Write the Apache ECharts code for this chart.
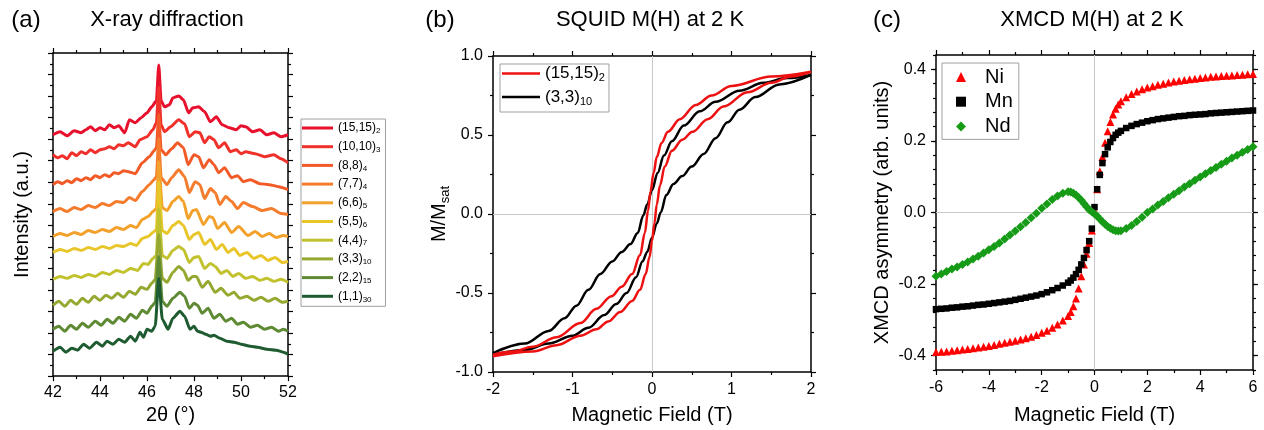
<!DOCTYPE html>
<html><head><meta charset="utf-8">
<script src="https://cdn.jsdelivr.net/npm/echarts@6/dist/echarts.min.js"></script>
<style>html,body{margin:0;padding:0;background:#fff}#c{width:1264px;height:430px}</style>
</head><body><div id="c"></div>
<script>
// ---------- (a) X-ray diffraction: 2theta (deg), offset log intensity (a.u.) ----------
const xrdLabels = ['(15,15)','(10,10)','(8,8)','(7,7)','(6,6)','(5,5)','(4,4)','(3,3)','(2,2)','(1,1)'];
const xrdSubs = ['2','3','4','4','5','6','7','10','15','30'];
const xrdC1 = [[42.0,242],[42.3,245],[42.6,241],[42.9,246],[43.2,244],[43.4,247],[43.6,250],[43.8,246],[44.0,249],[44.2,247],[44.4,252],[44.6,249],[44.8,251],[45.05,244],[45.25,257],[45.5,254],[45.75,259],[46.0,264],[46.2,270],[46.4,276],[46.5,312],[46.6,276],[46.75,270],[46.95,272],[47.1,279],[47.35,281],[47.55,277],[47.77,264],[47.95,269],[48.2,270],[48.45,265],[48.7,255],[48.95,260],[49.2,252],[49.5,249],[49.8,247],[50.0,251],[50.2,250],[50.5,245],[50.8,247],[51.1,242],[51.4,244],[51.7,240],[52.0,242]];
const xrdC2 = [[42.0,222],[42.2,219],[42.4,221],[42.6,218],[42.8,224],[43.0,221],[43.2,225],[43.4,223],[43.6,227],[43.8,224],[44.0,227],[44.2,228],[44.4,230],[44.6,228],[44.8,232],[45.0,231],[45.2,234],[45.5,230],[45.7,237],[46.0,240],[46.25,247],[46.4,254],[46.5,290],[46.6,252],[46.75,245],[47.0,250],[47.35,257],[47.6,253],[47.8,240],[48.05,245],[48.25,244],[48.45,234],[48.65,240],[48.85,237],[49.05,229],[49.3,234],[49.55,225],[49.8,227],[50.0,223],[50.2,225],[50.6,223],[51.0,220],[51.4,222],[51.7,218],[52.0,214]];
const xrdC3 = [[42.0,192],[42.2,195],[42.4,193],[42.6,196],[42.8,194],[43.0,198],[43.2,196],[43.4,199],[43.6,197],[43.8,201],[44.0,199],[44.2,202],[44.4,200],[44.6,204],[44.8,203],[45.0,206],[45.2,205],[45.5,203],[45.8,214],[46.1,220],[46.3,226],[46.4,229],[46.5,262],[46.6,227],[46.8,222],[47.05,228],[47.3,234],[47.55,229],[47.75,212],[48.0,222],[48.2,220],[48.4,209],[48.65,217],[48.85,212],[49.05,204],[49.3,209],[49.6,199],[49.85,201],[50.1,195],[50.4,197],[50.8,193],[51.2,192],[51.6,190],[52.0,187]];
const xrdC4 = [[42.0,165],[42.3,168],[42.6,165],[42.9,169],[43.2,167],[43.5,171],[43.8,169],[44.1,173],[44.4,171],[44.7,175],[45.0,174],[45.25,179],[45.5,176],[45.8,185],[46.1,192],[46.3,197],[46.4,200],[46.5,238],[46.6,199],[46.85,192],[47.05,199],[47.35,207],[47.6,200],[47.8,184],[48.05,195],[48.25,192],[48.45,178],[48.7,188],[48.9,184],[49.1,172],[49.35,180],[49.6,175],[49.85,168],[50.1,174],[50.5,170],[50.9,166],[51.3,168],[51.7,163],[52.0,162]];
const xrdC5 = [[42.0,140],[42.3,143],[42.6,141],[42.9,144],[43.2,142],[43.5,146],[43.8,144],[44.1,147],[44.4,145],[44.7,149],[45.0,147],[45.3,151],[45.55,149],[45.8,157],[46.05,160],[46.25,165],[46.4,168],[46.5,215],[46.65,169],[46.85,166],[47.1,175],[47.35,180],[47.55,175],[47.75,158],[47.95,166],[48.1,167],[48.4,152],[48.65,160],[48.8,159],[49.0,148],[49.3,154],[49.6,144],[49.9,150],[50.3,141],[50.6,145],[50.9,140],[51.2,143],[51.5,139],[51.8,141],[52.0,140]];
const xrdC6 = [[42.0,124],[42.3,127],[42.6,125],[42.9,128],[43.2,126],[43.5,129],[43.8,127],[44.1,130],[44.4,128],[44.7,131],[45.0,130],[45.3,133],[45.55,131],[45.8,138],[46.05,140],[46.25,144],[46.4,147],[46.5,195],[46.65,146],[46.85,143],[47.1,151],[47.35,155],[47.55,151],[47.8,137],[48.0,142],[48.2,144],[48.45,132],[48.7,137],[48.95,127],[49.2,132],[49.45,124],[49.7,128],[49.95,121],[50.25,124],[50.55,118],[50.85,121],[51.15,116],[51.45,119],[51.75,114],[52.0,115]];
const xrdC7 = [[42.0,97],[42.3,100],[42.6,98],[42.9,101],[43.2,99],[43.5,102],[43.8,100],[44.1,104],[44.4,102],[44.7,106],[45.0,104],[45.3,108],[45.6,106],[45.85,113],[46.05,112],[46.25,118],[46.4,121],[46.5,168],[46.65,121],[46.85,118],[47.1,126],[47.35,130],[47.55,127],[47.8,114],[48.0,119],[48.2,120],[48.45,108],[48.7,113],[48.9,110],[49.15,103],[49.4,106],[49.65,100],[49.9,103],[50.2,98],[50.5,100],[50.8,96],[51.1,98],[51.4,95],[51.7,97],[52.0,94]];
const xrdC8 = [[42.0,71],[42.25,75],[42.5,70],[42.75,76],[43.0,72],[43.25,78],[43.5,74],[43.75,80],[44.0,76],[44.25,81],[44.5,78],[44.75,83],[45.0,79],[45.25,85],[45.5,82],[45.75,89],[46.0,87],[46.2,93],[46.35,97],[46.5,142],[46.65,98],[46.85,94],[47.1,104],[47.35,110],[47.55,106],[47.75,96],[47.95,100],[48.1,100],[48.35,89],[48.6,95],[48.9,84],[49.15,88],[49.45,81],[49.7,84],[49.95,78],[50.25,80],[50.55,76],[50.85,79],[51.15,75],[51.45,78],[51.75,74],[52.0,75]];
const xrdC9 = [[42.0,47],[42.25,50],[42.5,45],[42.75,51],[43.0,47],[43.25,53],[43.5,49],[43.8,55],[44.05,51],[44.3,57],[44.55,53],[44.8,59],[45.05,55],[45.3,62],[45.55,58],[45.8,66],[46.0,63],[46.2,70],[46.35,74],[46.5,120],[46.65,75],[46.85,70],[47.1,78],[47.4,84],[47.6,80],[47.8,68],[48.0,73],[48.15,71],[48.35,63],[48.6,68],[48.85,58],[49.1,62],[49.35,55],[49.6,58],[49.85,52],[50.1,54],[50.4,49],[50.7,51],[51.0,47],[51.3,49],[51.6,45],[51.8,47],[52.0,45]];
const xrdC10 = [[42.0,25],[42.3,29],[42.55,24],[42.8,28],[43.05,26],[43.3,32],[43.55,28],[43.85,34],[44.1,30],[44.3,35],[44.55,32],[44.8,37],[45.05,34],[45.3,40],[45.5,35],[45.7,44],[45.85,39],[46.0,47],[46.2,45],[46.35,50],[46.5,98],[46.65,57],[46.9,47],[47.1,58],[47.4,65],[47.6,60],[47.83,47],[48.0,50],[48.15,45],[48.3,44],[48.5,42],[48.7,40],[48.85,41],[49.1,38],[49.4,35],[49.7,34],[50.0,32],[50.4,30],[50.7,29],[51.1,27],[51.5,26],[51.8,24],[52.0,22]];
const xrdCurves = [xrdC1,xrdC2,xrdC3,xrdC4,xrdC5,xrdC6,xrdC7,xrdC8,xrdC9,xrdC10];
const xrdColors = ['#e8112d','#f0302a','#f25a27','#f47c2c','#f2a12b','#e8c62a','#c2c12e','#97a831','#5e8a34','#1f5b30'];

// ---------- (b) SQUID M(H): field (T), M/Msat ----------
const squidLabels = ['(15,15)','(3,3)'];
const squidSubs = ['2','10'];
const squidRedDown = [[2,0.90],[1.5,0.87],[1.0,0.81],[0.75,0.75],[0.55,0.69],[0.35,0.60],[0.2,0.52],[0.12,0.45],[0.06,0.36],[0.02,0.26],[-0.02,0.14],[-0.05,0.02],[-0.09,-0.12],[-0.15,-0.26],[-0.25,-0.38],[-0.38,-0.46],[-0.51,-0.52],[-0.7,-0.60],[-0.9,-0.69],[-1.2,-0.78],[-1.5,-0.84],[-1.75,-0.87],[-2,-0.89]];
const squidRedUp = [[-2,-0.90],[-1.5,-0.87],[-1.2,-0.83],[-0.9,-0.77],[-0.7,-0.73],[-0.55,-0.68],[-0.4,-0.62],[-0.25,-0.55],[-0.15,-0.48],[-0.08,-0.38],[-0.03,-0.27],[0,-0.17],[0.03,-0.06],[0.06,0.06],[0.1,0.18],[0.16,0.30],[0.25,0.40],[0.38,0.47],[0.51,0.52],[0.7,0.60],[0.9,0.68],[1.2,0.77],[1.5,0.83],[1.75,0.87],[2,0.90]];
const squidBlackDown = [[2,0.88],[1.7,0.86],[1.4,0.83],[1.1,0.78],[0.8,0.71],[0.6,0.65],[0.4,0.56],[0.25,0.46],[0.15,0.37],[0.07,0.26],[0,0.15],[-0.06,0.06],[-0.11,-0.01],[-0.18,-0.12],[-0.27,-0.19],[-0.38,-0.24],[-0.5,-0.30],[-0.65,-0.38],[-0.8,-0.48],[-0.95,-0.58],[-1.1,-0.66],[-1.3,-0.74],[-1.6,-0.82],[-2,-0.88]];
const squidBlackUp = [[-2,-0.89],[-1.6,-0.86],[-1.3,-0.82],[-1.0,-0.77],[-0.8,-0.72],[-0.6,-0.64],[-0.45,-0.57],[-0.32,-0.50],[-0.2,-0.40],[-0.12,-0.30],[-0.06,-0.24],[0,-0.15],[0.06,-0.06],[0.11,0.01],[0.18,0.12],[0.27,0.19],[0.38,0.24],[0.5,0.30],[0.65,0.38],[0.8,0.48],[0.95,0.58],[1.1,0.66],[1.3,0.74],[1.6,0.82],[2,0.88]];

// ---------- (c) XMCD M(H): field (T), asymmetry ----------
const xmcdField = [-6,-5.8,-5.6,-5.4,-5.2,-5,-4.8,-4.6,-4.4,-4.2,-4,-3.8,-3.6,-3.4,-3.2,-3,-2.8,-2.6,-2.4,-2.2,-2,-1.8,-1.6,-1.4,-1.2,-1,-0.9,-0.8,-0.7,-0.6,-0.5,-0.4,-0.3,-0.2,-0.1,0,0.1,0.2,0.3,0.4,0.5,0.6,0.7,0.8,0.9,1,1.2,1.4,1.6,1.8,2,2.2,2.4,2.6,2.8,3,3.2,3.4,3.6,3.8,4,4.2,4.4,4.6,4.8,5,5.2,5.4,5.6,5.8,6];
const xmcdNi = [-0.390,-0.389,-0.388,-0.386,-0.385,-0.383,-0.381,-0.379,-0.377,-0.375,-0.373,-0.370,-0.367,-0.364,-0.361,-0.358,-0.355,-0.351,-0.347,-0.342,-0.336,-0.330,-0.322,-0.313,-0.302,
 -0.289,-0.278,-0.262,-0.240,-0.212,-0.178,-0.145,-0.115,-0.085,-0.050,0.005,0.065,0.115,0.155,0.195,0.227,0.253,0.274,0.290,0.302,0.311,
 0.322,0.331,0.338,0.344,0.349,0.353,0.357,0.360,0.363,0.366,0.368,0.370,0.372,0.374,0.376,0.377,0.379,0.380,0.381,0.382,0.383,0.384,0.385,0.386,0.387];
const xmcdMn = [-0.270,-0.269,-0.268,-0.266,-0.265,-0.263,-0.262,-0.260,-0.258,-0.257,-0.255,-0.253,-0.251,-0.249,-0.247,-0.244,-0.241,-0.238,-0.235,-0.232,-0.228,-0.223,-0.217,-0.211,-0.204,
 -0.196,-0.190,-0.182,-0.172,-0.160,-0.145,-0.127,-0.105,-0.080,-0.045,0.015,0.065,0.105,0.138,0.163,0.182,0.197,0.208,0.217,0.223,0.228,
 0.236,0.242,0.247,0.251,0.255,0.258,0.261,0.263,0.265,0.267,0.269,0.270,0.272,0.273,0.274,0.275,0.277,0.278,0.279,0.280,0.281,0.282,0.283,0.284,0.285];
const xmcdNd = [-0.178,-0.172,-0.165,-0.158,-0.152,-0.145,-0.138,-0.130,-0.122,-0.113,-0.104,-0.095,-0.085,-0.074,-0.063,-0.052,-0.040,-0.028,-0.015,-0.002,0.012,0.024,0.036,0.046,0.054,
 0.058,0.057,0.054,0.049,0.042,0.034,0.025,0.016,0.008,0.002,-0.004,-0.010,-0.018,-0.026,-0.033,-0.039,-0.044,-0.048,-0.051,-0.052,-0.051,
 -0.045,-0.036,-0.025,-0.013,0.000,0.010,0.021,0.031,0.041,0.051,0.061,0.071,0.080,0.090,0.099,0.108,0.117,0.126,0.135,0.143,0.152,0.160,0.168,0.176,0.184];
const xmcdYTicks = [-0.4,-0.2,0,0.2,0.4];

// ---------- chart ----------
const FONT = 'Liberation Sans';
const BLK = '#000';
const chart = echarts.init(document.getElementById('c'), null, {renderer:'canvas'});

function ax(extra) {
  return Object.assign({
    type: 'value',
    splitLine: {show: false},
    axisLine: {show: true, onZero: false, lineStyle: {color: BLK, width: 1.5}},
    axisTick: {show: true, inside: false, length: 5, lineStyle: {color: BLK, width: 1.2}},
    minorTick: {show: true, splitNumber: 2, length: 3, lineStyle: {color: BLK, width: 1.2}},
    axisLabel: {show: false},
    nameTextStyle: {color: BLK, fontSize: 20, fontFamily: FONT}
  }, extra);
}
function lab(margin, fmt) {
  const o = {show: true, color: BLK, fontSize: 16, fontFamily: FONT, margin: margin, showMinLabel: true, showMaxLabel: true, hideOverlap: false};
  if (fmt) o.formatter = fmt;
  return o;
}
const f1 = v => v.toFixed(1);

const grids = [
  {left: 53, top: 53, width: 235, height: 324},
  {left: 493, top: 56, width: 318, height: 319},
  {left: 936, top: 55, width: 317, height: 320}
];

const xAxis = [
  ax({gridIndex: 0, position: 'bottom', min: 42, max: 52, interval: 2, axisLabel: lab(8),
      name: '2θ (°)', nameLocation: 'middle', nameGap: 28}),
  ax({gridIndex: 0, position: 'top', min: 42, max: 52, interval: 2}),
  ax({gridIndex: 1, position: 'bottom', min: -2, max: 2, interval: 1, axisLabel: lab(10),
      name: 'Magnetic Field (T)', nameLocation: 'middle', nameGap: 33}),
  ax({gridIndex: 1, position: 'top', min: -2, max: 2, interval: 1}),
  ax({gridIndex: 2, position: 'bottom', min: -6, max: 6, interval: 2, axisLabel: lab(10),
      name: 'Magnetic Field (T)', nameLocation: 'middle', nameGap: 35}),
  ax({gridIndex: 2, position: 'top', min: -6, max: 6, interval: 2})
];

const yAxis = [
  ax({gridIndex: 0, position: 'left', min: 0, max: 324, interval: 21.6,
      name: 'Intensity (a.u.)', nameLocation: 'middle', nameGap: 21}),
  ax({gridIndex: 0, position: 'right', min: 0, max: 324, interval: 21.6}),
  ax({gridIndex: 1, position: 'left', min: -1, max: 1, interval: 0.5, axisLabel: lab(10, f1),
      name: '{m|M/M}{s|sat}', nameLocation: 'middle', nameGap: 30,
      nameTextStyle: {color: BLK, fontFamily: FONT, rich: {
        m: {fontSize: 20, lineHeight: 24, color: BLK, fontFamily: FONT},
        s: {fontSize: 13, lineHeight: 10, verticalAlign: 'bottom', color: BLK, fontFamily: FONT}}}}),
  ax({gridIndex: 1, position: 'right', min: -1, max: 1, interval: 0.5}),
  ax({gridIndex: 2, position: 'left', min: -0.44, max: 0.44, interval: 0.04, minorTick: {show: false},
      axisTick: {show: true, length: 3, lineStyle: {color: BLK, width: 1.2}}}),
  ax({gridIndex: 2, position: 'left', min: -0.44, max: 0.44, minorTick: {show: false},
      axisLine: {show: false, onZero: false},
      axisTick: {show: true, length: 5, customValues: xmcdYTicks, lineStyle: {color: BLK, width: 1.2}},
      axisLabel: Object.assign(lab(10, f1), {customValues: xmcdYTicks}),
      name: 'XMCD asymmetry (arb. units)', nameLocation: 'middle', nameGap: 44}),
  ax({gridIndex: 2, position: 'right', min: -0.44, max: 0.44, interval: 0.04, minorTick: {show: false},
      axisTick: {show: true, length: 3, lineStyle: {color: BLK, width: 1.2}}}),
  ax({gridIndex: 2, position: 'right', min: -0.44, max: 0.44, minorTick: {show: false},
      axisLine: {show: false, onZero: false},
      axisTick: {show: true, length: 5, customValues: xmcdYTicks, lineStyle: {color: BLK, width: 1.2}}})
];

const series = [];
xrdCurves.forEach((curve, i) => {
  series.push({
    type: 'line', name: 'a' + i, xAxisIndex: 0, yAxisIndex: 0, data: curve,
    symbol: 'none', smooth: 0.2, smoothMonotone: 'x', silent: true,
    lineStyle: {color: xrdColors[i], width: 3}, itemStyle: {color: xrdColors[i]}
  });
});
const zeroLine = (z) => ({
  silent: true, symbol: 'none', z: z, label: {show: false},
  lineStyle: {color: '#c8c8c8', width: 1, type: 'solid'},
  emphasis: {disabled: true},
  data: [{xAxis: 0}, {yAxis: 0}]
});
const squidSets = [
  {name: 'b1', data: squidBlackDown, color: '#000000'},
  {name: 'b1', data: squidBlackUp, color: '#000000'},
  {name: 'b0', data: squidRedDown, color: '#ee1111'},
  {name: 'b0', data: squidRedUp, color: '#ee1111'}
];
squidSets.forEach((s, k) => {
  const o = {
    type: 'line', name: s.name, xAxisIndex: 2, yAxisIndex: 2, data: s.data,
    symbol: 'none', smooth: 0.35, smoothMonotone: 'x', silent: true,
    lineStyle: {color: s.color, width: 2.5}, itemStyle: {color: s.color}
  };
  if (k === 0) o.markLine = zeroLine(1);
  series.push(o);
});
const xmcdSets = [
  {name: 'Ni', vals: xmcdNi, symbol: 'triangle', size: 8, color: '#ff0000'},
  {name: 'Mn', vals: xmcdMn, symbol: 'rect', size: 6.5, color: '#000000'},
  {name: 'Nd', vals: xmcdNd, symbol: 'diamond', size: 9, color: '#169b16'}
];
xmcdSets.forEach((s, k) => {
  const o = {
    type: 'scatter', name: s.name, xAxisIndex: 4, yAxisIndex: 4,
    data: xmcdField.map((h, i) => [h, s.vals[i]]),
    symbol: s.symbol, symbolSize: s.size, silent: true,
    itemStyle: {color: s.color, opacity: 1}
  };
  if (k === 0) o.markLine = zeroLine(1);
  series.push(o);
});

const legendA = {
  orient: 'vertical', left: 301, top: 119, selectedMode: false,
  data: xrdLabels.map((l, i) => 'a' + i),
  icon: 'rect', itemWidth: 31, itemHeight: 3, itemGap: 5.7, padding: [3, 5, 3, 1],
  borderColor: '#a0a0a0', borderWidth: 1,
  formatter: n => { const i = +n.slice(1); return '{m|' + xrdLabels[i] + '}{s|' + xrdSubs[i] + '}'; },
  textStyle: {color: BLK, fontFamily: FONT, rich: {
    m: {fontSize: 12, lineHeight: 14, color: BLK, fontFamily: FONT},
    s: {fontSize: 8, lineHeight: 6, verticalAlign: 'bottom', color: BLK, fontFamily: FONT}}}
};
const legendB = {
  orient: 'vertical', left: 500, top: 64, selectedMode: false,
  data: ['b0', 'b1'],
  icon: 'rect', itemWidth: 38, itemHeight: 2.5, itemGap: 5, padding: [1, 4, 5, 2],
  borderColor: '#a0a0a0', borderWidth: 1,
  formatter: n => { const i = +n.slice(1); return '{m|' + squidLabels[i] + '}{s|' + squidSubs[i] + '}'; },
  textStyle: {color: BLK, fontFamily: FONT, rich: {
    m: {fontSize: 17, lineHeight: 20, color: BLK, fontFamily: FONT},
    s: {fontSize: 11, lineHeight: 8, verticalAlign: 'bottom', color: BLK, fontFamily: FONT}}}
};
const legendC = {
  orient: 'vertical', left: 942, top: 63, selectedMode: false,
  data: ['Ni', 'Mn', 'Nd'],
  itemWidth: 10, itemHeight: 10, itemGap: 0.7, padding: [2, 6, 1, 14],
  borderColor: '#a0a0a0', borderWidth: 1,
  textStyle: {color: BLK, fontFamily: FONT, fontSize: 20, lineHeight: 24, padding: [0, 0, 0, 14]}
};

function txt(x, y, text, size) {
  return {type: 'text', x: x, y: y, silent: true,
    style: {text: text, font: size + 'px "' + FONT + '"', fill: BLK,
      align: 'center', verticalAlign: 'middle', textAlign: 'center', textVerticalAlign: 'middle'}};
}

chart.setOption({
  animation: false,
  backgroundColor: '#fff',
  textStyle: {fontFamily: FONT},
  grid: grids,
  xAxis: xAxis,
  yAxis: yAxis,
  legend: [legendA, legendB, legendC],
  series: series,
  graphic: [
    txt(26, 20, '(a)', 24), txt(167, 20, 'X-ray diffraction', 22),
    txt(440, 20, '(b)', 24), txt(650, 20, 'SQUID M(H) at 2 K', 22),
    txt(887, 20, '(c)', 24), txt(1092, 20, 'XMCD M(H) at 2 K', 22)
  ]
});
</script></body></html>
